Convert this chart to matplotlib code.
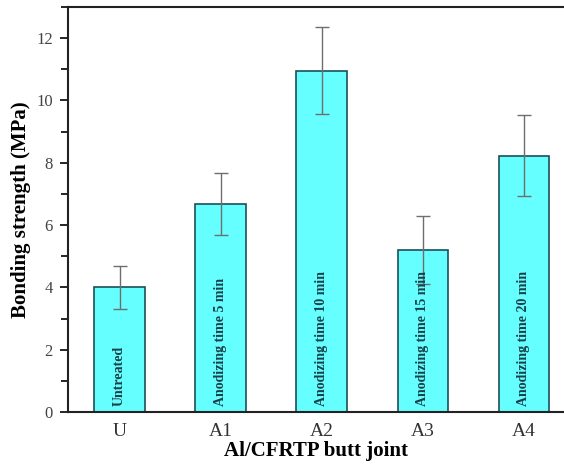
import matplotlib
matplotlib.use("Agg")
from matplotlib import pyplot as plt
from matplotlib.ticker import MultipleLocator

# data
groups = ["U", "A1", "A2", "A3", "A4"]
strength = [4.0, 6.68, 10.95, 5.2, 8.22]
err = [0.7, 1.0, 1.4, 1.1, 1.3]
notes = ["Untreated", "Anodizing time 5 min", "Anodizing time 10 min",
         "Anodizing time 15 min", "Anodizing time 20 min"]

plt.rcParams['font.family'] = ['Liberation Serif', 'DejaVu Serif']

fig = plt.figure(figsize=(5.64, 4.68), dpi=100)
ax = fig.add_axes([0.1206, 0.1197, 0.88, 0.8653])

x = range(len(groups))
ax.bar(x, strength, width=0.5, color="#66ffff", edgecolor="#1d4f5a", linewidth=1.2,
       yerr=err, capsize=5,
       error_kw=dict(ecolor="#6e6e6e", elinewidth=1.0, capthick=1.0))

# vertical text inside each bar
for i, t in enumerate(notes):
    ax.text(i, 0.2, t, rotation=90, ha="center", va="bottom",
            fontsize=10, fontweight="bold", color="#17404a")

ax.set_xlim(-0.51, 4.40)
ax.set_ylim(0, 13)
ax.set_xticks(list(x))
ax.set_xticklabels(groups)
ax.yaxis.set_major_locator(MultipleLocator(2))
ax.yaxis.set_minor_locator(MultipleLocator(1))
ax.tick_params(axis="x", length=0, labelsize=14, colors="#333333", pad=8)
ax.tick_params(axis="y", which="major", length=6, width=1.2, labelsize=12, labelcolor="#444444", pad=5)
ax.tick_params(axis="y", which="minor", length=5, width=1.2)
ax.spines["right"].set_visible(False)
for s in ["left", "bottom", "top"]:
    ax.spines[s].set_linewidth(1.5)
    ax.spines[s].set_color("#222222")

ax.set_xlabel("Al/CFRTP butt joint", fontsize=15, fontweight="bold", labelpad=1)
ax.set_ylabel("Bonding strength (MPa)", fontsize=15, fontweight="bold", labelpad=4)

fig.savefig("out.png", dpi=100)
